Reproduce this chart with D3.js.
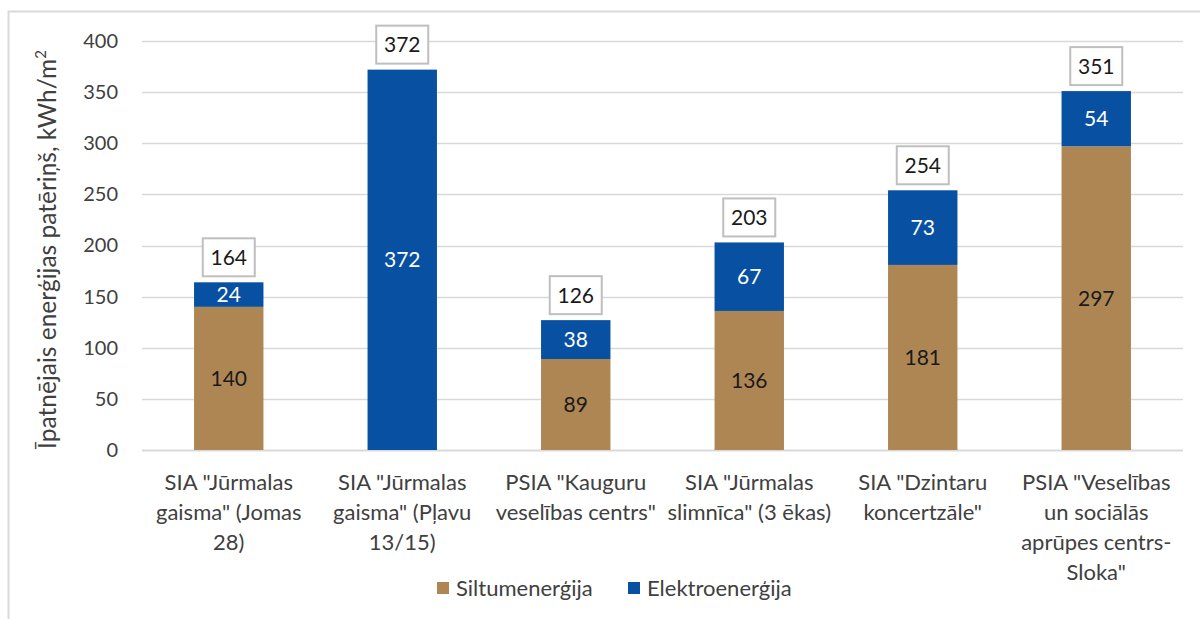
<!DOCTYPE html>
<html>
<head>
<meta charset="utf-8">
<script src="https://cdn.jsdelivr.net/npm/d3@7"></script>
<style>
  body { margin: 0; background: #fff; }
  svg { display: block; font-family: Lato, "Open Sans", sans-serif; }
</style>
</head>
<body>
<svg id="chart" width="1200" height="619"></svg>
<script>
// dati
const categories = [
  ['SIA "Jūrmalas', 'gaisma" (Jomas', '28)'],
  ['SIA "Jūrmalas', 'gaisma" (Pļavu', '13/15)'],
  ['PSIA "Kauguru', 'veselības centrs"'],
  ['SIA "Jūrmalas', 'slimnīca" (3 ēkas)'],
  ['SIA "Dzintaru', 'koncertzāle"'],
  ['PSIA "Veselības', 'un sociālās', 'aprūpes centrs-', 'Sloka"']
];
const siltums = [140, 0, 89, 136, 181, 297];
const elektro = [24, 372, 38, 67, 73, 54];
const kopa = [164, 372, 126, 203, 254, 351];
const yTicks = [0, 50, 100, 150, 200, 250, 300, 350, 400];
const seriesNames = ["Siltumenerģija", "Elektroenerģija"];
const colors = ["#AE8654", "#0750A2"];

const svg = d3.select("#chart");
const margin = { top: 41, right: 17, bottom: 170, left: 142 };
const width = 1200, height = 619;

// rāmis
svg.append("path")
  .attr("d", `M8.5,${height} V11.5 H${width}`)
  .attr("fill", "none")
  .attr("stroke", "#D9D9D9")
  .attr("stroke-width", 2);

const x = d3.scaleBand()
  .domain(d3.range(categories.length))
  .range([margin.left, width - margin.right])
  .paddingInner(0.6)
  .paddingOuter(0.3);

const y = d3.scaleLinear()
  .domain([0, 400])
  .range([height - margin.bottom + 1, margin.top]);

// režģis
svg.append("g")
  .selectAll("line")
  .data(yTicks)
  .join("line")
  .attr("x1", margin.left)
  .attr("x2", width - margin.right)
  .attr("y1", d => Math.round(y(d)) + 0.5)
  .attr("y2", d => Math.round(y(d)) + 0.5)
  .attr("stroke", "#D9D9D9")
  .attr("stroke-width", d => d === 0 ? 2 : 1.3);

// y ass
const yAxis = svg.append("g")
  .attr("transform", `translate(${margin.left - 24},0)`)
  .call(d3.axisLeft(y).tickValues(yTicks).tickSize(0).tickPadding(0));
yAxis.select(".domain").remove();
yAxis.selectAll("text")
  .attr("font-size", 20)
  .attr("fill", "#404040")
  .attr("font-family", "Lato, sans-serif");

// ass nosaukums
const title = svg.append("text")
  .attr("transform", `translate(56,${(y(0) + y(400)) / 2 + 4}) rotate(-90)`)
  .attr("text-anchor", "middle")
  .attr("font-size", 24.5)
  .attr("fill", "#404040");
title.append("tspan").text("Īpatnējais enerģijas patēriņš, kWh/m");
title.append("tspan").attr("font-size", 15).attr("dy", -10).text("2");

// stabiņi
const rows = categories.map((c, i) => ({ i, s: siltums[i], e: elektro[i] }));
const stack = d3.stack().keys(["s", "e"])(rows);

const groups = svg.append("g")
  .selectAll("g")
  .data(stack)
  .join("g")
  .attr("fill", (d, k) => colors[k]);

groups.selectAll("rect")
  .data(d => d)
  .join("rect")
  .attr("x", d => x(d.data.i))
  .attr("width", x.bandwidth())
  .attr("y", d => y(d[1]))
  .attr("height", d => y(d[0]) - y(d[1]));

// vērtības segmentos
stack.forEach((layer, k) => {
  svg.append("g")
    .selectAll("text")
    .data(layer.filter(d => d[1] - d[0] > 0))
    .join("text")
    .attr("x", d => x(d.data.i) + x.bandwidth() / 2)
    .attr("y", d => (y(d[0]) + y(d[1])) / 2)
    .attr("dy", "0.36em")
    .attr("text-anchor", "middle")
    .attr("font-size", 21)
    .attr("fill", k === 0 ? "#1a1a1a" : "#ffffff")
    .text(d => d[1] - d[0]);
});

// kopsummas ar rāmīšiem
const tot = svg.append("g")
  .selectAll("g")
  .data(kopa)
  .join("g")
  .attr("transform", (d, i) => `translate(${x(i) + x.bandwidth() / 2},${y(siltums[i] + elektro[i]) - 25})`);

tot.append("rect")
  .attr("x", -26)
  .attr("y", -19)
  .attr("width", 52)
  .attr("height", 38)
  .attr("fill", "#fff")
  .attr("stroke", "#BFBFBF")
  .attr("stroke-width", 2);

tot.append("text")
  .attr("text-anchor", "middle")
  .attr("dy", "0.36em")
  .attr("font-size", 21)
  .attr("fill", "#1a1a1a")
  .text(d => d);

// x ass nosaukumi
const xl = svg.append("g")
  .selectAll("text")
  .data(categories)
  .join("text")
  .attr("x", (d, i) => x(i) + x.bandwidth() / 2)
  .attr("y", 490)
  .attr("text-anchor", "middle")
  .attr("font-size", 22)
  .attr("fill", "#404040");

xl.selectAll("tspan")
  .data(d => d)
  .join("tspan")
  .attr("x", function () { return this.parentNode.getAttribute("x"); })
  .attr("dy", (d, j) => j === 0 ? 0 : 30)
  .text(d => d);

// leģenda
const legendX = [437, 628];
const leg = svg.append("g")
  .selectAll("g")
  .data(seriesNames)
  .join("g")
  .attr("transform", (d, k) => `translate(${legendX[k]},588)`);

leg.append("rect")
  .attr("x", 0)
  .attr("y", -6)
  .attr("width", 12)
  .attr("height", 12)
  .attr("fill", (d, k) => colors[k]);

leg.append("text")
  .attr("x", 19)
  .attr("dy", "0.36em")
  .attr("font-size", 22)
  .attr("fill", "#404040")
  .text(d => d);
</script>
</body>
</html>
